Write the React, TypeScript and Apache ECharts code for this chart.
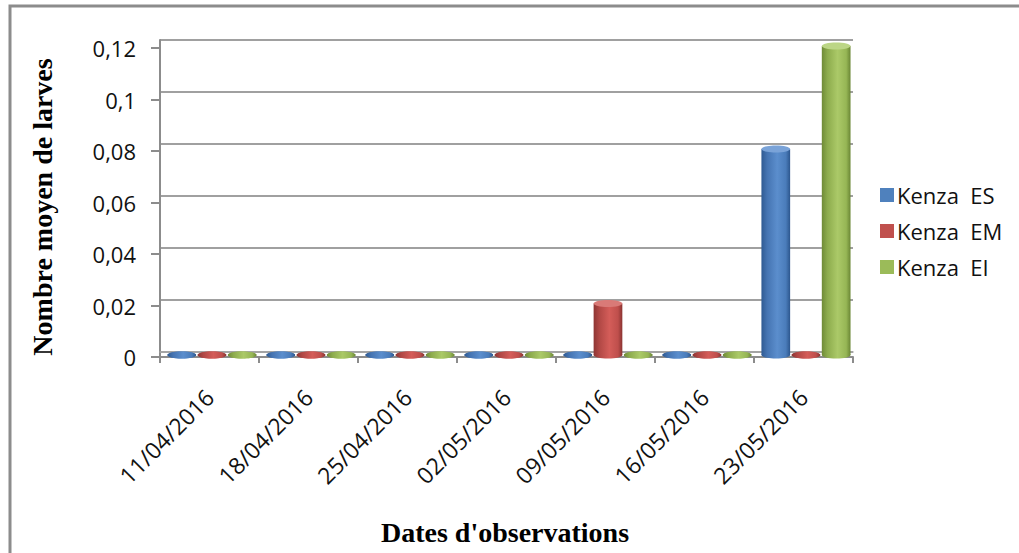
import React, { useEffect, useRef } from "react";
import * as echarts from "echarts";

const categories = ["11/04/2016", "18/04/2016", "25/04/2016", "02/05/2016", "09/05/2016", "16/05/2016", "23/05/2016"];
const seriesNames = ["Kenza  ES", "Kenza  EM", "Kenza  EI"];
const kenzaES = [0, 0, 0, 0, 0, 0, 0.08];
const kenzaEM = [0, 0, 0, 0, 0.02, 0, 0];
const kenzaEI = [0, 0, 0, 0, 0, 0, 0.12];
const yMin = 0;
const yMax = 0.12;
const yStep = 0.02;

const palettes = [
  { base: "#4F81BD", stops: ["#2f5a92", "#4574b2", "#5b8ecd", "#4a7cba", "#2c568d"], top: "#7aa3d8" },
  { base: "#C0504D", stops: ["#8e3533", "#b14845", "#d45d59", "#bf4f4c", "#8a3331"], top: "#d97a77" },
  { base: "#9BBB59", stops: ["#6f8b37", "#8dac4d", "#abc968", "#96b655", "#6a8634"], top: "#bcd686" },
];

const fmt = (v: number) => String(Number(v.toFixed(2))).replace(".", ",");

export default function App() {
  const ref = useRef<HTMLDivElement>(null);
  useEffect(() => {
    if (!ref.current) return;
    const chart = echarts.init(ref.current, undefined, { renderer: "svg" });
    const allValues = [kenzaES, kenzaEM, kenzaEI];
    const makeSeries = (si: number) => {
      const p = palettes[si];
      const grad = new echarts.graphic.LinearGradient(0, 0, 1, 0, [
        { offset: 0, color: p.stops[0] },
        { offset: 0.2, color: p.stops[1] },
        { offset: 0.55, color: p.stops[2] },
        { offset: 0.85, color: p.stops[3] },
        { offset: 1, color: p.stops[4] },
      ]);
      return {
        type: "custom",
        name: seriesNames[si],
        xAxisIndex: 1,
        yAxisIndex: 1,
        itemStyle: { color: p.base },
        data: allValues[si].map((v, i) => [i, v]),
        encode: { x: 0, y: 1 },
        renderItem: (params: any, api: any) => {
          const idx = api.value(0);
          const val = api.value(1);
          const base = api.coord([idx, 0]);
          const top = api.coord([idx, val]);
          const catW = api.size([1, 0])[0];
          const w = catW * 0.29;
          const step = catW * 0.305;
          const cx = base[0] + (si - 1) * step + catW * 0.025;
          const yb = base[1] - 2;
          const yt = top[1] - 2;
          const rx = w / 2;
          const ry = 3.5;
          return {
            type: "group",
            children: [
              { type: "rect", shape: { x: cx - rx, y: yt, width: w, height: Math.max(0, yb - yt) }, style: { fill: grad } },
              { type: "ellipse", shape: { cx, cy: yb, rx, ry }, style: { fill: grad } },
              { type: "ellipse", shape: { cx, cy: yt, rx, ry }, style: { fill: val > 0 ? p.top : grad } },
            ],
          };
        },
      };
    };

    const labelFont = "'Open Sans', 'Noto Sans', sans-serif";
    const titleFont = "bold 28px 'Liberation Serif', 'DejaVu Serif', serif";
    chart.setOption({
      animation: false,
      backgroundColor: "#ffffff",
      grid: [
        { left: 160, right: 166, top: 40, bottom: 201, containLabel: false },
        { left: 160, right: 166, top: 48, bottom: 196, containLabel: false },
      ],
      xAxis: [
        {
          type: "category",
          gridIndex: 0,
          data: categories,
          axisLine: { show: true, lineStyle: { color: "#a6a6a6", width: 1.5 } },
          axisTick: { show: false },
          axisLabel: { show: false },
        },
        {
          type: "category",
          gridIndex: 1,
          data: categories,
          axisLine: { show: true, lineStyle: { color: "#8c8c8c", width: 2 } },
          axisTick: { show: true, length: 6, lineStyle: { color: "#8c8c8c", width: 2 } },
          axisLabel: { rotate: 45, margin: 36, fontSize: 23, color: "#111", fontFamily: labelFont },
        },
      ],
      yAxis: [
        {
          type: "value",
          gridIndex: 0,
          min: yMin,
          max: yMax,
          interval: yStep,
          axisLine: { show: true, lineStyle: { color: "#8c8c8c", width: 2 } },
          axisTick: { show: false },
          axisLabel: { show: false },
          splitLine: { show: true, lineStyle: { color: "#a0a0a0", width: 2 } },
        },
        {
          type: "value",
          gridIndex: 1,
          min: yMin,
          max: yMax,
          interval: yStep,
          axisLine: { show: true, lineStyle: { color: "#8c8c8c", width: 2 } },
          axisTick: { show: true, length: 9, lineStyle: { color: "#8c8c8c", width: 2 } },
          axisLabel: { margin: 24, fontSize: 22, color: "#111", fontFamily: labelFont, formatter: fmt },
          splitLine: { show: false },
        },
      ],
      legend: {
        orient: "vertical",
        left: 875,
        top: 179,
        icon: "rect",
        itemWidth: 14,
        itemHeight: 14,
        itemGap: 14,
        textStyle: { fontSize: 22, lineHeight: 22, color: "#111", fontFamily: labelFont, padding: [0, 0, 0, -2] },
        data: seriesNames,
      },
      graphic: [
        {
          type: "rect",
          shape: { x: 10, y: 6, width: 1030, height: 570 },
          style: { fill: "none", stroke: "#8c8c8c", lineWidth: 3 },
          silent: true,
        },
        {
          type: "text",
          x: 42,
          y: 207,
          rotation: Math.PI / 2,
          style: {
            text: "Nombre moyen de larves",
            font: titleFont,
            fill: "#000",
            textAlign: "center",
            textVerticalAlign: "middle",
          },
        },
        {
          type: "text",
          x: 505,
          y: 532,
          style: {
            text: "Dates d'observations",
            font: titleFont,
            fill: "#000",
            textAlign: "center",
            textVerticalAlign: "middle",
          },
        },
      ],
      series: [makeSeries(0), makeSeries(1), makeSeries(2)],
    });
    return () => chart.dispose();
  }, []);
  return <div ref={ref} style={{ position: "absolute", left: 0, top: 0, width: 1019, height: 553 }} />;
}
